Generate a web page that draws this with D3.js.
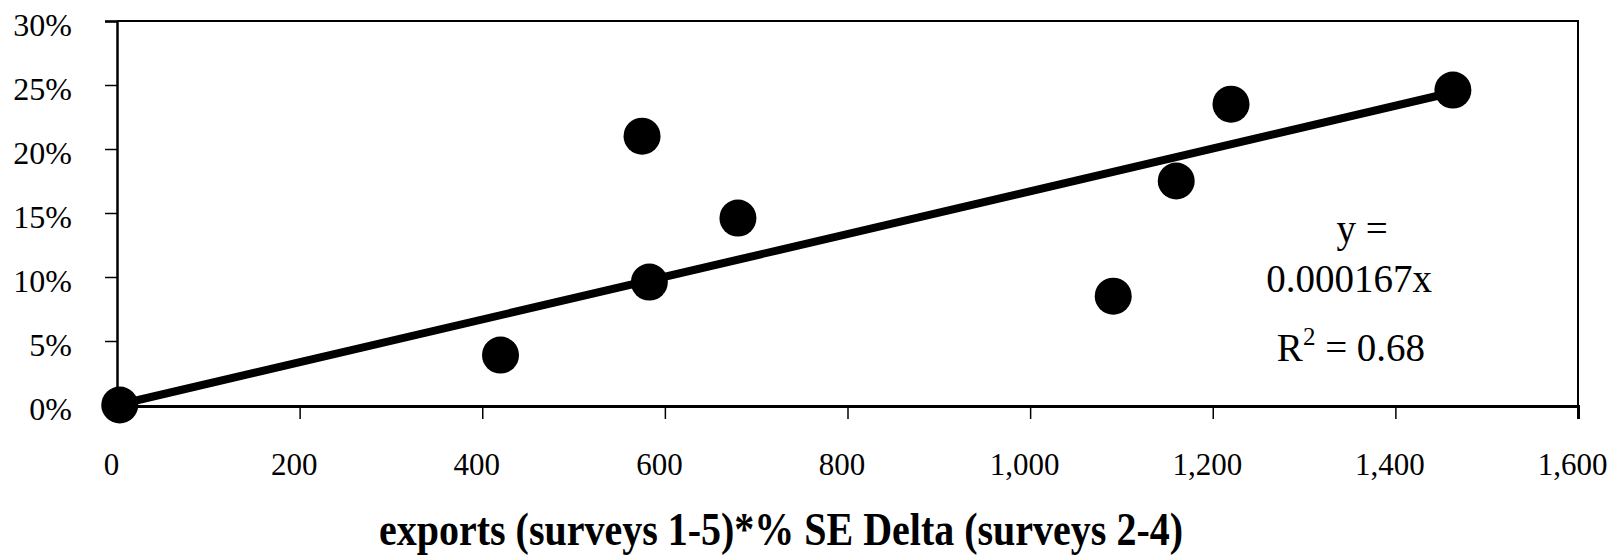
<!DOCTYPE html>
<html>
<head>
<meta charset="utf-8">
<script src="https://cdn.jsdelivr.net/npm/d3@7"></script>
<style>
  html, body { margin: 0; padding: 0; background: #fff; }
  svg { display: block; }
  text { font-family: "Liberation Serif", "Times New Roman", serif; fill: #000; }
</style>
</head>
<body>
<svg id="chart" width="1612" height="558"></svg>
<script>
// ---- data ----
const xValues = [3, 420, 575, 583, 680, 1091, 1160, 1220, 1463];
const yValues = [0.000, 0.039, 0.210, 0.096, 0.146, 0.085, 0.175, 0.235, 0.246];
const xTicks = [0, 200, 400, 600, 800, 1000, 1200, 1400, 1600];
const yTicks = [0, 0.05, 0.10, 0.15, 0.20, 0.25, 0.30];
const trendSlope = 0.000167;
const eqLines = ["y =", "0.000167x"];
const r2Label = "0.68";
const xTitle = "exports (surveys 1-5)*% SE Delta (surveys 2-4)";

// ---- layout ----
const svg = d3.select("#chart");
const L = 117, R = 1578, T = 21, B = 405;

const x = d3.scaleLinear().domain([0, 1600]).range([L, R]);
const y = d3.scaleLinear().domain([0, 0.30]).range([B, T]);

// plot border (top & right)
svg.append("path")
  .attr("d", `M${L},${T} H${R} V${B}`)
  .attr("fill", "none").attr("stroke", "#000").attr("stroke-width", 2);

// y axis
const yAxis = d3.axisLeft(y).tickValues(yTicks).tickSize(12).tickFormat(d3.format(".0%"));
const gy = svg.append("g").attr("transform", `translate(${L},0)`).call(yAxis);
gy.select(".domain").attr("stroke-width", 2.5);
gy.selectAll(".tick line").attr("stroke-width", 1.5);
gy.selectAll(".tick text")
  .attr("x", -45).attr("dy", null).attr("y", 14.5)
  .style("font-family", "'Liberation Serif', serif").style("font-size", "32px");

// x axis
const xAxis = d3.axisBottom(x).tickValues(xTicks).tickSize(13).tickFormat(d3.format(","));
const gx = svg.append("g").attr("transform", `translate(0,${B + 1})`).call(xAxis);
gx.select(".domain").attr("stroke-width", 3);
gx.selectAll(".tick line").attr("stroke-width", 1.5);
gx.selectAll(".tick text")
  .attr("y", 69).attr("dy", null).attr("dx", -6)
  .style("font-family", "'Liberation Serif', serif").style("font-size", "31px");

// trend line through origin
const xMax = d3.max(xValues);
svg.append("line")
  .attr("x1", x(0)).attr("y1", y(0))
  .attr("x2", x(xMax)).attr("y2", y(trendSlope * xMax))
  .attr("stroke", "#000").attr("stroke-width", 8);

// points
svg.append("g").selectAll("circle")
  .data(xValues.map((v, i) => [v, yValues[i]]))
  .join("circle")
  .attr("cx", d => x(d[0])).attr("cy", d => y(d[1]))
  .attr("r", 18.5).attr("fill", "#000");

// equation text
const eq = svg.append("g").style("font-size", "39px");
eq.append("text").attr("x", 1362).attr("y", 242).attr("text-anchor", "middle").text(eqLines[0]);
eq.append("text").attr("x", 1349).attr("y", 292).attr("text-anchor", "middle").text(eqLines[1]);
const r2 = eq.append("text").attr("x", 1351).attr("y", 361).attr("text-anchor", "middle");
r2.append("tspan").text("R");
r2.append("tspan").attr("dy", -16).style("font-size", "25px").text("2");
r2.append("tspan").attr("dy", 16).text(" = " + r2Label);

// x axis title (slightly tall letterforms as in the reference)
svg.append("text")
  .attr("transform", "translate(781,545) scale(1,1.14)")
  .attr("text-anchor", "middle")
  .style("font-size", "40px").style("font-weight", "bold")
  .text(xTitle);
</script>
</body>
</html>
